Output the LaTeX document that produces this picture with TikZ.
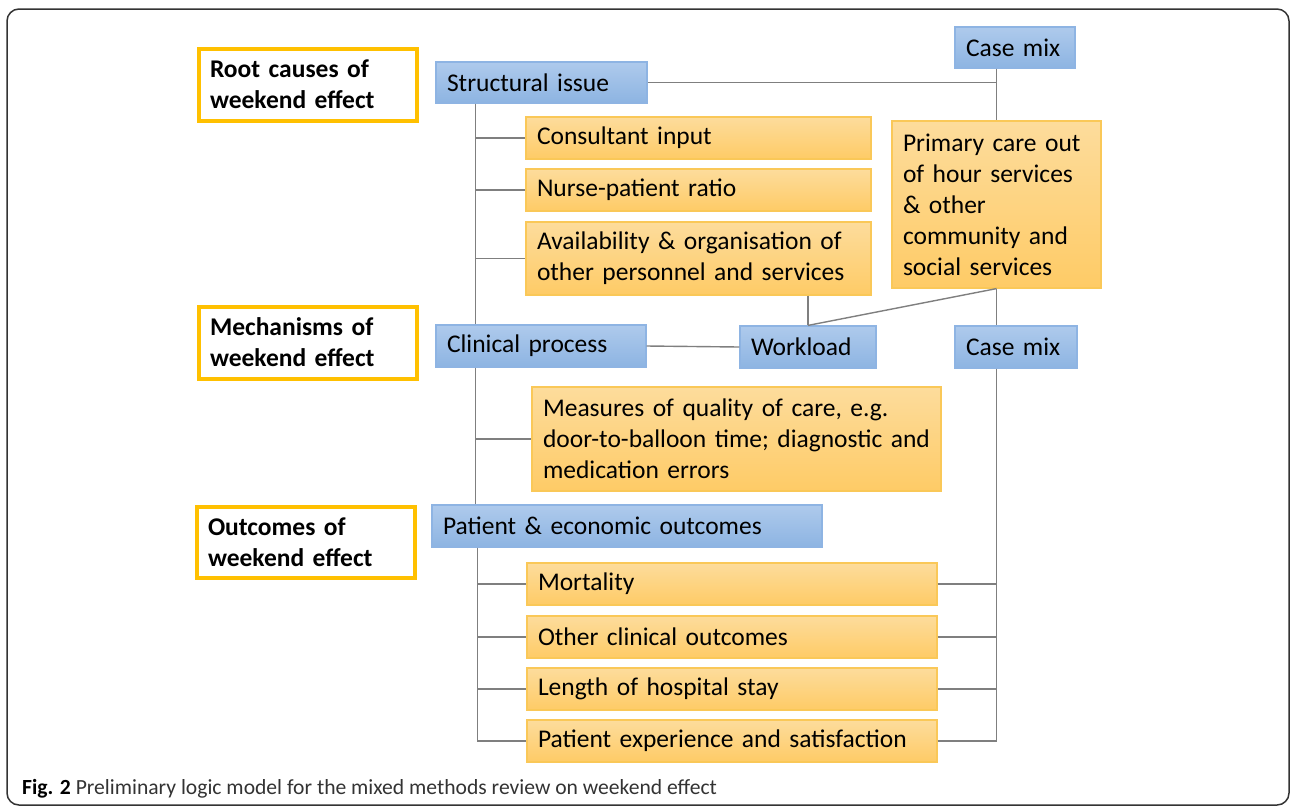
\documentclass[tikz,border=0pt]{standalone}
\usepackage{fontspec}
\setmainfont{Carlito}
\definecolor{bluetop}{HTML}{AECAEC}
\definecolor{bluebot}{HTML}{8DB4E2}
\definecolor{blueedge}{HTML}{8EB4E3}
\definecolor{oratop}{HTML}{FDDC9C}
\definecolor{orabot}{HTML}{FECB66}
\definecolor{oraedge}{HTML}{FAC858}
\definecolor{headedge}{HTML}{FFC000}
\definecolor{linegray}{HTML}{7F7F7F}
\definecolor{capgray}{HTML}{333333}
\tikzset{
  boxbase/.style={rectangle, inner xsep=11pt, inner ysep=0pt, align=left, anchor=center,
    font=\fontsize{25.5}{31}\selectfont},
  bluebox/.style={boxbase, top color=bluetop, bottom color=bluebot, draw=blueedge, line width=1.2pt},
  orabox/.style={boxbase, top color=oratop, bottom color=orabot, draw=oraedge, line width=1.2pt},
  headbox/.style={boxbase, fill=white, draw=headedge, line width=4pt,
    font=\fontsize{25.5}{31}\selectfont\bfseries},
  conn/.style={draw=linegray, line width=1.4pt},
}
\begin{document}
\begin{tikzpicture}[x=1pt,y=-1pt]
\useasboundingbox (0,0) rectangle (1292,807);
\draw[capgray, line width=1.5pt, rounded corners=12pt] (7,9) rectangle (1289,805);

% header boxes
\node[headbox, minimum width=218pt, minimum height=72pt, text width=196pt] (rc) at (308,84.5) {Root causes of\\weekend effect};
\node[headbox, minimum width=218pt, minimum height=72pt, text width=196pt] (mh) at (308,342.5) {Mechanisms of\\weekend effect};
\node[headbox, minimum width=218pt, minimum height=71pt, text width=196pt] (oh) at (306,542) {Outcomes of\\weekend effect};

% blue boxes
\node[bluebox, minimum width=211pt, minimum height=41pt, text width=189pt] (si) at (541.5,82.5) {Structural issue};
\node[bluebox, minimum width=120pt, minimum height=41pt, text width=98pt] (cm1) at (1015,47.5) {Case mix};
\node[bluebox, minimum width=210pt, minimum height=42pt, text width=188pt] (cp) at (541,346) {Clinical process};
\node[bluebox, minimum width=136pt, minimum height=42pt, text width=114pt] (wl) at (808,347) {Workload};
\node[bluebox, minimum width=122pt, minimum height=42pt, text width=100pt] (cm2) at (1016,347) {Case mix};
\node[bluebox, minimum width=390pt, minimum height=42pt, text width=368pt] (pe) at (627,526) {Patient \& economic outcomes};

% orange boxes
\node[orabox, minimum width=345pt, minimum height=42pt, text width=323pt] (ci) at (698.5,138) {Consultant input};
\node[orabox, minimum width=345pt, minimum height=42pt, text width=323pt] (np) at (698.5,190) {Nurse-patient ratio};
\node[orabox, minimum width=345pt, minimum height=73pt, text width=323pt] (av) at (698.5,258.5) {Availability \& organisation of\\other personnel and services};
\node[orabox, minimum width=209pt, minimum height=167pt, text width=187pt] (pc) at (996.5,204.5) {Primary care out\\of hour services\\\& other\\community and\\social services};
\node[orabox, minimum width=409pt, minimum height=104pt, text width=387pt] (mq) at (736.5,439) {Measures of quality of care, e.g.\\door-to-balloon time; diagnostic and\\medication errors};
\node[orabox, minimum width=410pt, minimum height=42pt, text width=388pt] (mo) at (732,584) {Mortality};
\node[orabox, minimum width=410pt, minimum height=42pt, text width=388pt] (oc) at (732,637) {Other clinical outcomes};
\node[orabox, minimum width=410pt, minimum height=42pt, text width=388pt] (ls) at (732,689) {Length of hospital stay};
\node[orabox, minimum width=410pt, minimum height=42pt, text width=388pt] (px) at (732,741) {Patient experience and satisfaction};

% trunk coordinates
\coordinate (t1a) at ([xshift=40pt]si.south west);
\coordinate (t1b) at ([xshift=40pt]cp.north west);
\coordinate (t2a) at ([xshift=40pt]cp.south west);
\coordinate (t2b) at ([xshift=44pt]pe.north west);
\coordinate (t3a) at ([xshift=46pt]pe.south west);

\draw[conn] (t1a) -- (t1b);
\draw[conn] (ci.west -| t1a) -- (ci.west);
\draw[conn] (np.west -| t1a) -- (np.west);
\draw[conn] (av.west -| t1a) -- (av.west);

\draw[conn] (si.east) -- (si.east -| pc.north);
\draw[conn] (cm1.south -| pc.north) -- (pc.north);

\draw[conn] (cp.east) -- (wl.west);
\draw[conn] (av.south -| wl.north) -- (wl.north);
\draw[conn] (pc.south) -- (wl.north);
\draw[conn] (pc.south) -- (cm2.north -| pc.south);

\draw[conn] (t2a) -- (t2b);
\draw[conn] (mq.west -| t2a) -- (mq.west);

\draw[conn] (t3a) -- (px.west -| t3a);
\draw[conn] (mo.west -| t3a) -- (mo.west);
\draw[conn] (oc.west -| t3a) -- (oc.west);
\draw[conn] (ls.west -| t3a) -- (ls.west);
\draw[conn] (px.west -| t3a) -- (px.west);

\draw[conn] (cm2.south -| pc.south) -- (px.east -| pc.south);
\draw[conn] (mo.east) -- (mo.east -| pc.south);
\draw[conn] (oc.east) -- (oc.east -| pc.south);
\draw[conn] (ls.east) -- (ls.east -| pc.south);
\draw[conn] (px.east) -- (px.east -| pc.south);

% caption
\node[anchor=west, inner sep=0pt, font=\fontsize{21.6}{24}\selectfont, text=capgray] (cap) at (22,789) {\textbf{\color{black}Fig. 2} Preliminary logic model for the mixed methods review on weekend effect};
\end{tikzpicture}
\end{document}
